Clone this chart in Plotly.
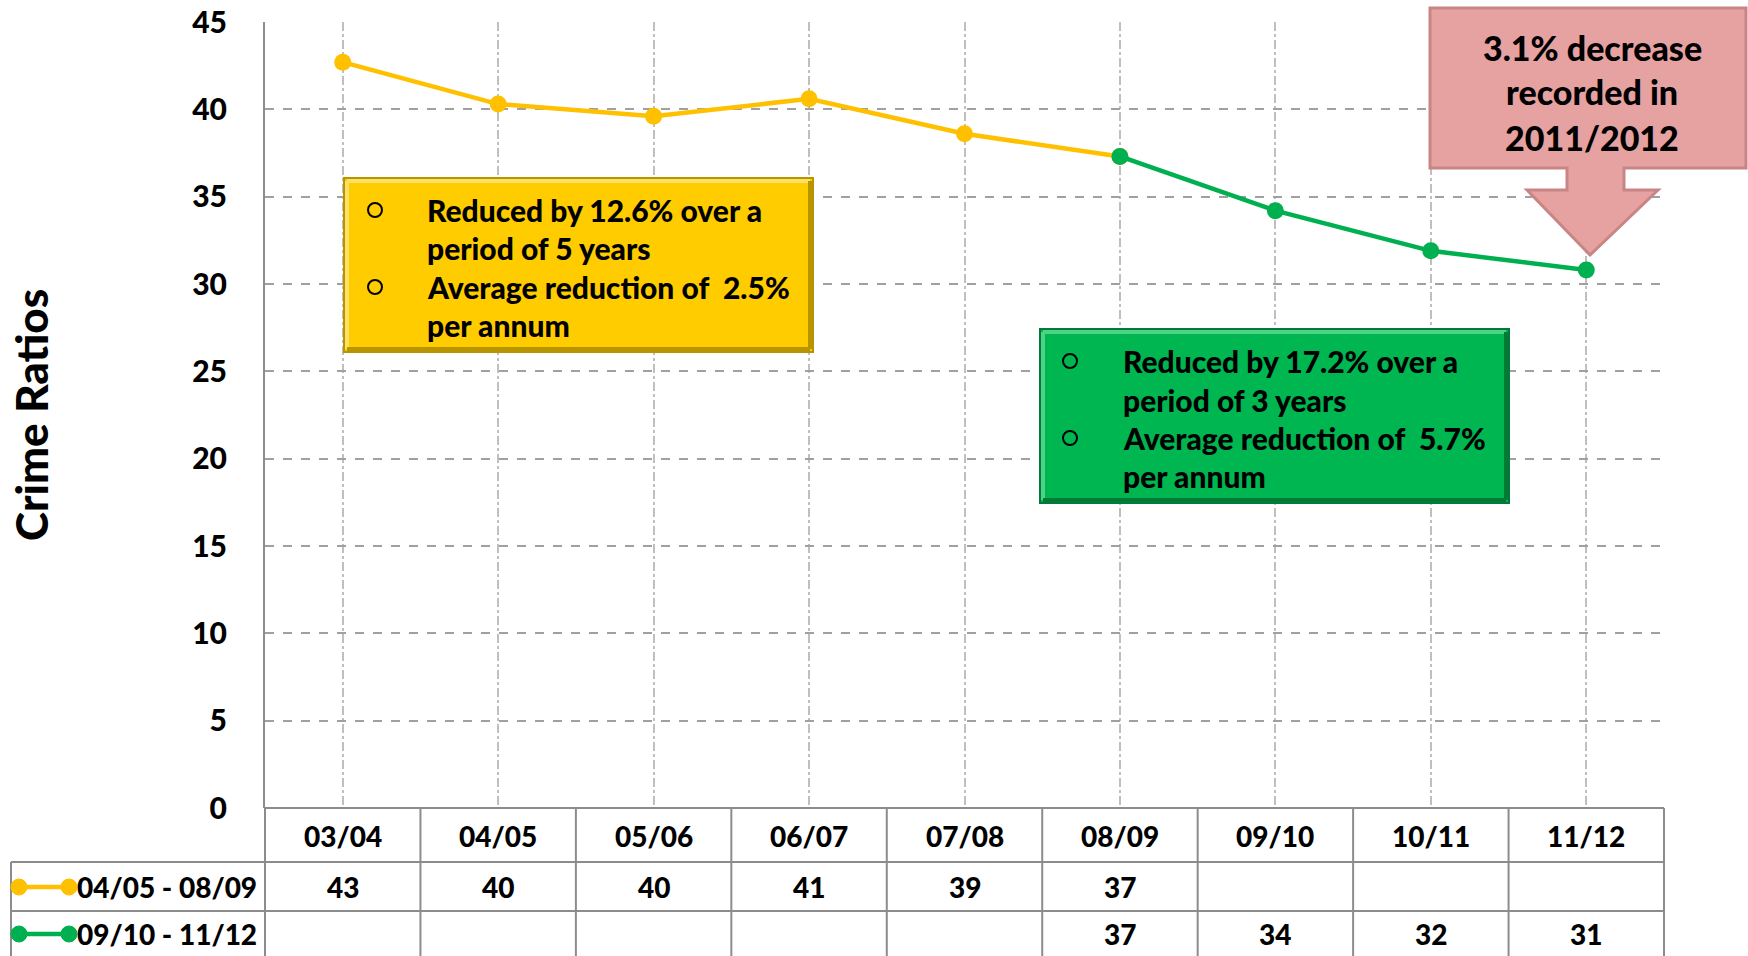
import plotly.graph_objects as go

categories = ["03/04", "04/05", "05/06", "06/07", "07/08", "08/09", "09/10", "10/11", "11/12"]
series1_name = "04/05 - 08/09"
series2_name = "09/10 - 11/12"
series1 = [42.7, 40.3, 39.6, 40.6, 38.6, 37.3, None, None, None]
series2 = [None, None, None, None, None, 37.3, 34.2, 31.9, 30.8]
yticks = [0, 5, 10, 15, 20, 25, 30, 35, 40, 45]

box1_lines = ["Reduced by 12.6% over a", "period of 5 years", "Average reduction of  2.5%", "per annum"]
box2_lines = ["Reduced by 17.2% over a", "period of 3 years", "Average reduction of  5.7%", "per annum"]
callout_lines = ["3.1% decrease", "recorded in", "2011/2012"]

W, H = 1748, 956
L, R, T, B = 265, 84, 22, 148
PW, PH = W - L - R, H - T - B

YEL = "#FFC000"
GRN = "#00B050"
FONT = "Lato"
WEIGHT = 900

def px(x):
    return (x - L) / PW

def py(y):
    return (H - B - y) / PH

fig = go.Figure()
fig.add_trace(go.Scatter(x=categories, y=series1, name=series1_name, mode="lines+markers",
                         line=dict(color=YEL, width=4.5), marker=dict(size=17, color=YEL),
                         connectgaps=False, cliponaxis=False))
fig.add_trace(go.Scatter(x=categories, y=series2, name=series2_name, mode="lines+markers",
                         line=dict(color=GRN, width=4.5), marker=dict(size=17, color=GRN),
                         connectgaps=False, cliponaxis=False))

shapes = []
annotations = []

def text_at(x, y, t, size, xanchor="center", angle=0):
    annotations.append(dict(x=px(x), y=py(y), xref="paper", yref="paper", text=t, showarrow=False,
                            xanchor=xanchor, yanchor="middle", textangle=angle,
                            font=dict(family=FONT, size=size, color="black", weight=WEIGHT)))

# ---- table below the plot ----
ncat = len(categories)
colw = PW / ncat
grid_col = "#8C8C8C"
row_y = [H - B, 862, 911, 960]
shapes.append(dict(type="line", xref="paper", yref="paper", x0=px(L), x1=px(L + PW), y0=py(row_y[0]), y1=py(row_y[0]),
                   line=dict(color=grid_col, width=2)))
for yy in row_y[1:3]:
    shapes.append(dict(type="line", xref="paper", yref="paper", x0=px(11), x1=px(L + PW), y0=py(yy), y1=py(yy),
                       line=dict(color=grid_col, width=2)))
for k in range(ncat + 1):
    xx = L + k * colw
    shapes.append(dict(type="line", xref="paper", yref="paper", x0=px(xx), x1=px(xx), y0=py(row_y[0]), y1=py(row_y[3]),
                       line=dict(color=grid_col, width=2)))
shapes.append(dict(type="line", xref="paper", yref="paper", x0=px(11), x1=px(11), y0=py(row_y[1]), y1=py(row_y[3]),
                   line=dict(color=grid_col, width=2)))

row_centers = [836, 887, 934]
for i, c in enumerate(categories):
    xc = L + (i + 0.5) * colw
    text_at(xc, row_centers[0], c, 28)
    for r, ser in ((1, series1), (2, series2)):
        v = ser[i]
        if v is not None:
            text_at(xc, row_centers[r], f"{v:.0f}", 28)

for r, (name, col) in enumerate(((series1_name, YEL), (series2_name, GRN)), start=1):
    yc = row_centers[r]
    shapes.append(dict(type="line", xref="paper", yref="paper", x0=px(19), x1=px(69), y0=py(yc), y1=py(yc),
                       line=dict(color=col, width=4.5)))
    for cx in (19, 69):
        shapes.append(dict(type="circle", xref="paper", yref="paper", x0=px(cx - 8), x1=px(cx + 8),
                           y0=py(yc + 8), y1=py(yc - 8), fillcolor=col, line=dict(color=col, width=1)))
    text_at(75, yc, name, 28, xanchor="left")

# ---- y axis title ----
text_at(31, 415, "Crime Ratios", 44, angle=-90)

# ---- info boxes (with a simple bevel) ----
def info_box(x0, y0, x1, y1, fill, light, dark, bullet_x, text_x, line_ys, lines):
    shapes.append(dict(type="rect", xref="paper", yref="paper", x0=px(x0), x1=px(x1), y0=py(y1), y1=py(y0),
                       fillcolor=fill, line=dict(color=dark, width=2), layer="above"))
    # bevel edges
    shapes.append(dict(type="line", xref="paper", yref="paper", x0=px(x0 + 3), x1=px(x1 - 3), y0=py(y0 + 3), y1=py(y0 + 3),
                       line=dict(color=light, width=4), layer="above"))
    shapes.append(dict(type="line", xref="paper", yref="paper", x0=px(x0 + 3), x1=px(x0 + 3), y0=py(y0 + 3), y1=py(y1 - 3),
                       line=dict(color=light, width=4), layer="above"))
    shapes.append(dict(type="line", xref="paper", yref="paper", x0=px(x0 + 3), x1=px(x1 - 3), y0=py(y1 - 3), y1=py(y1 - 3),
                       line=dict(color=dark, width=4), layer="above"))
    shapes.append(dict(type="line", xref="paper", yref="paper", x0=px(x1 - 3), x1=px(x1 - 3), y0=py(y0 + 3), y1=py(y1 - 3),
                       line=dict(color=dark, width=4), layer="above"))
    for by in (line_ys[0], line_ys[2]):
        shapes.append(dict(type="circle", xref="paper", yref="paper", x0=px(bullet_x - 7), x1=px(bullet_x + 7),
                           y0=py(by + 7), y1=py(by - 7), line=dict(color="black", width=2), layer="above"))
    for ly, t in zip(line_ys, lines):
        text_at(text_x, ly, t, 30, xanchor="left")

info_box(344, 178, 813, 352, "#FFCC00", "#FFE066", "#B89400", 375, 425, [210, 248, 287, 325], box1_lines)
info_box(1040, 329, 1509, 503, "#00B650", "#4CD386", "#007A35", 1070, 1121, [361, 400, 438, 476], box2_lines)

# ---- callout arrow ----
pts = [(1430, 8), (1746, 8), (1746, 168), (1624, 168), (1624, 190), (1658, 190), (1590, 255),
       (1527, 190), (1567, 190), (1567, 168), (1430, 168)]
path = "M " + " L ".join(f"{px(x):.5f},{py(y):.5f}" for x, y in pts) + " Z"
shapes.append(dict(type="path", xref="paper", yref="paper", path=path, fillcolor="#E6A1A1",
                   line=dict(color="#C98585", width=3), layer="above"))
for ly, t in zip([47, 92, 137], callout_lines):
    text_at(1592, ly, t, 34)

fig.update_layout(
    width=W, height=H,
    margin=dict(l=L, r=R, t=T, b=B, autoexpand=False),
    paper_bgcolor="white", plot_bgcolor="white",
    showlegend=False,
    shapes=shapes, annotations=annotations,
    xaxis=dict(type="category", categoryorder="array", categoryarray=categories, range=[-0.5, ncat - 0.5],
               showgrid=True, gridcolor="#BFBFBF", griddash="dashdot", gridwidth=1.5, automargin=False,
               showticklabels=False, ticks="", zeroline=False, showline=False),
    yaxis=dict(range=[0, 45], tickvals=yticks, showgrid=True, gridcolor="#A0A0A0", griddash="dash", gridwidth=1.5,
               zeroline=False, showline=True, linecolor="#8C8C8C", linewidth=2, ticks="", automargin=False,
               ticklabelstandoff=30, tickfont=dict(family=FONT, size=30, color="black", weight=WEIGHT)),
)

fig.write_html("out.html", config={"displayModeBar": False},
               post_script="document.body.style.margin='0';document.body.style.overflow='hidden';")
